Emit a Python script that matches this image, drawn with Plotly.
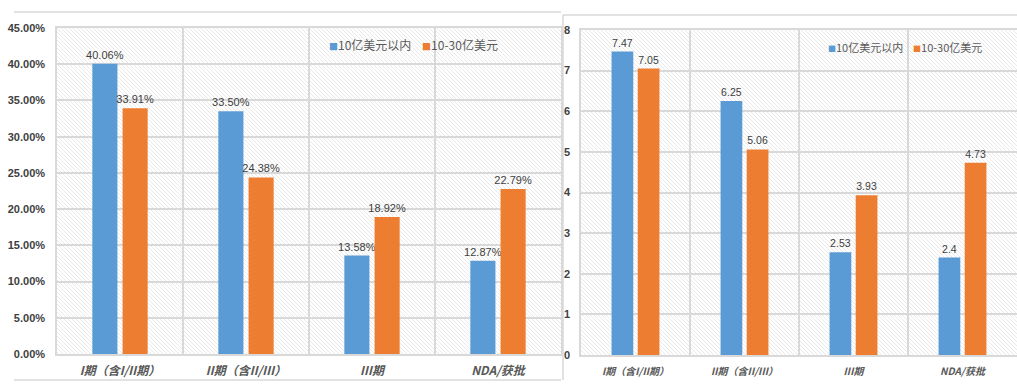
import base64
import plotly.graph_objects as go

categories = ["I期（含I/II期）", "II期（含II/III）", "III期", "NDA/获批"]
series_names = ["10亿美元以内", "10-30亿美元"]
left_small = [0.4006, 0.3350, 0.1358, 0.1287]
left_mid = [0.3391, 0.2438, 0.1892, 0.2279]
right_small = [7.47, 6.25, 2.53, 2.4]
right_mid = [7.05, 5.06, 3.93, 4.73]
left_ticks = [0, 0.05, 0.10, 0.15, 0.20, 0.25, 0.30, 0.35, 0.40, 0.45]
right_ticks = [0, 1, 2, 3, 4, 5, 6, 7, 8]

BLUE = "#5B9BD5"
ORANGE = "#ED7D31"
GRID = "#d9d9d9"
NUM_FONT = "Liberation Sans Narrow, Liberation Sans, Noto Sans CJK SC"
CJK_FONT = "Noto Sans CJK SC, Liberation Sans"

W, H = 1017, 389
def px(x):
    return x / W
def py(y):
    return 1 - y / H

L_dom_x = [px(57), px(561)]
L_dom_y = [py(354), py(28)]
R_dom_x = [px(581), 1.0]
R_dom_y = [py(355), py(30)]

fig = go.Figure()

def bar(x, y, name, color, xa, ya, tmpl, size):
    return go.Bar(x=x, y=y, name=name, marker=dict(color=color, line=dict(width=0)),
                  xaxis=xa, yaxis=ya, texttemplate=tmpl, textposition="outside",
                  textangle=0, constraintext="none",
                  textfont=dict(family=NUM_FONT, size=size, color="#404040"),
                  cliponaxis=False, showlegend=False)

fig.add_trace(bar(categories, left_small, series_names[0], BLUE, "x", "y", "%{y:.2%}", 11))
fig.add_trace(bar(categories, left_mid, series_names[1], ORANGE, "x", "y", "%{y:.2%}", 11))
fig.add_trace(bar(categories, right_small, series_names[0], BLUE, "x2", "y2", "%{y}", 10.5))
fig.add_trace(bar(categories, right_mid, series_names[1], ORANGE, "x2", "y2", "%{y}", 10.5))

def hatch(wpx, hpx):
    svg = (f"<svg xmlns='http://www.w3.org/2000/svg' width='{wpx}' height='{hpx}' "
           f"viewBox='0 0 {wpx} {hpx}' preserveAspectRatio='none'>"
           "<defs><pattern id='p' width='4' height='4' patternUnits='userSpaceOnUse'>"
           "<path d='M-1,-1 L5,5 M3,-1 L5,1 M-1,3 L1,5' stroke='#e9e9e9' stroke-width='1'/></pattern></defs>"
           "<rect width='100%' height='100%' fill='#ffffff'/>"
           "<rect width='100%' height='100%' fill='url(#p)'/></svg>")
    return "data:image/svg+xml;base64," + base64.b64encode(svg.encode()).decode()

images = [
    dict(source=hatch(504, 326), xref="paper", yref="paper", x=L_dom_x[0], y=L_dom_y[1],
         sizex=L_dom_x[1] - L_dom_x[0], sizey=L_dom_y[1] - L_dom_y[0],
         sizing="stretch", layer="below", xanchor="left", yanchor="top"),
    dict(source=hatch(436, 325), xref="paper", yref="paper", x=R_dom_x[0], y=R_dom_y[1],
         sizex=R_dom_x[1] - R_dom_x[0], sizey=R_dom_y[1] - R_dom_y[0],
         sizing="stretch", layer="below", xanchor="left", yanchor="top"),
]

axis_common = dict(showgrid=True, gridcolor=GRID, gridwidth=1.5, zeroline=False,
                   showline=True, linecolor=GRID, linewidth=1.5, mirror=True, ticks="",
                   automargin=False)

fig.update_layout(
    template="none",
    width=W, height=H,
    margin=dict(l=0, r=0, t=0, b=0, pad=0),
    paper_bgcolor="white",
    plot_bgcolor="rgba(0,0,0,0)",
    barmode="group", bargap=0.52, bargroupgap=0.17,
    images=images,
    xaxis=dict(domain=L_dom_x, anchor="y", tickson="boundaries", ticklabelstandoff=5,
               tickfont=dict(family=CJK_FONT, size=12, color="#595959", style="italic", weight="bold"),
               **axis_common),
    yaxis=dict(domain=L_dom_y, anchor="x", range=[0, 0.45], tickvals=left_ticks, tickformat=".2%",
               ticklabelstandoff=8,
               tickfont=dict(family=NUM_FONT, size=11, color="#404040", weight="bold"),
               **axis_common),
    xaxis2=dict(domain=R_dom_x, anchor="y2", tickson="boundaries", ticklabelstandoff=6,
                tickfont=dict(family=CJK_FONT, size=10, color="#595959", style="italic", weight="bold"),
                **axis_common),
    yaxis2=dict(domain=R_dom_y, anchor="x2", range=[0, 8], tickvals=right_ticks,
                ticklabelstandoff=7,
                tickfont=dict(family=NUM_FONT, size=11, color="#404040", weight="bold"),
                **axis_common),
    showlegend=False,
)

# legends (drawn as text keys)
def legend_text(size_sq):
    return (f"<span style='color:{BLUE};font-size:{size_sq}px'>■</span>{series_names[0]}"
            f"&nbsp;&nbsp;&nbsp;&nbsp;<span style='color:{ORANGE};font-size:{size_sq}px'>■</span>{series_names[1]}")

fig.add_annotation(text=legend_text(9), xref="paper", yref="paper", x=px(327), y=py(44),
                   xanchor="left", yanchor="middle", showarrow=False,
                   font=dict(family=CJK_FONT, size=12, color="#595959"))
fig.add_annotation(text=legend_text(8), xref="paper", yref="paper", x=px(826), y=py(47),
                   xanchor="left", yanchor="middle", showarrow=False,
                   font=dict(family=CJK_FONT, size=11, color="#595959"))

# chart frame borders
frame = dict(color=GRID, width=1.5)
fig.add_shape(type="line", xref="paper", yref="paper", x0=px(14), x1=px(561), y0=py(12), y1=py(12), line=frame)
fig.add_shape(type="line", xref="paper", yref="paper", x0=px(14), x1=px(561), y0=py(380), y1=py(380), line=frame)
fig.add_shape(type="line", xref="paper", yref="paper", x0=px(563), x1=1, y0=py(15), y1=py(15), line=frame)
fig.add_shape(type="line", xref="paper", yref="paper", x0=px(563), x1=px(563), y0=py(380), y1=py(15), line=frame)

fig.write_html(
    "out.html",
    config={"displayModeBar": False},
    post_script="document.body.style.margin='0';document.body.style.overflow='hidden';",
)
